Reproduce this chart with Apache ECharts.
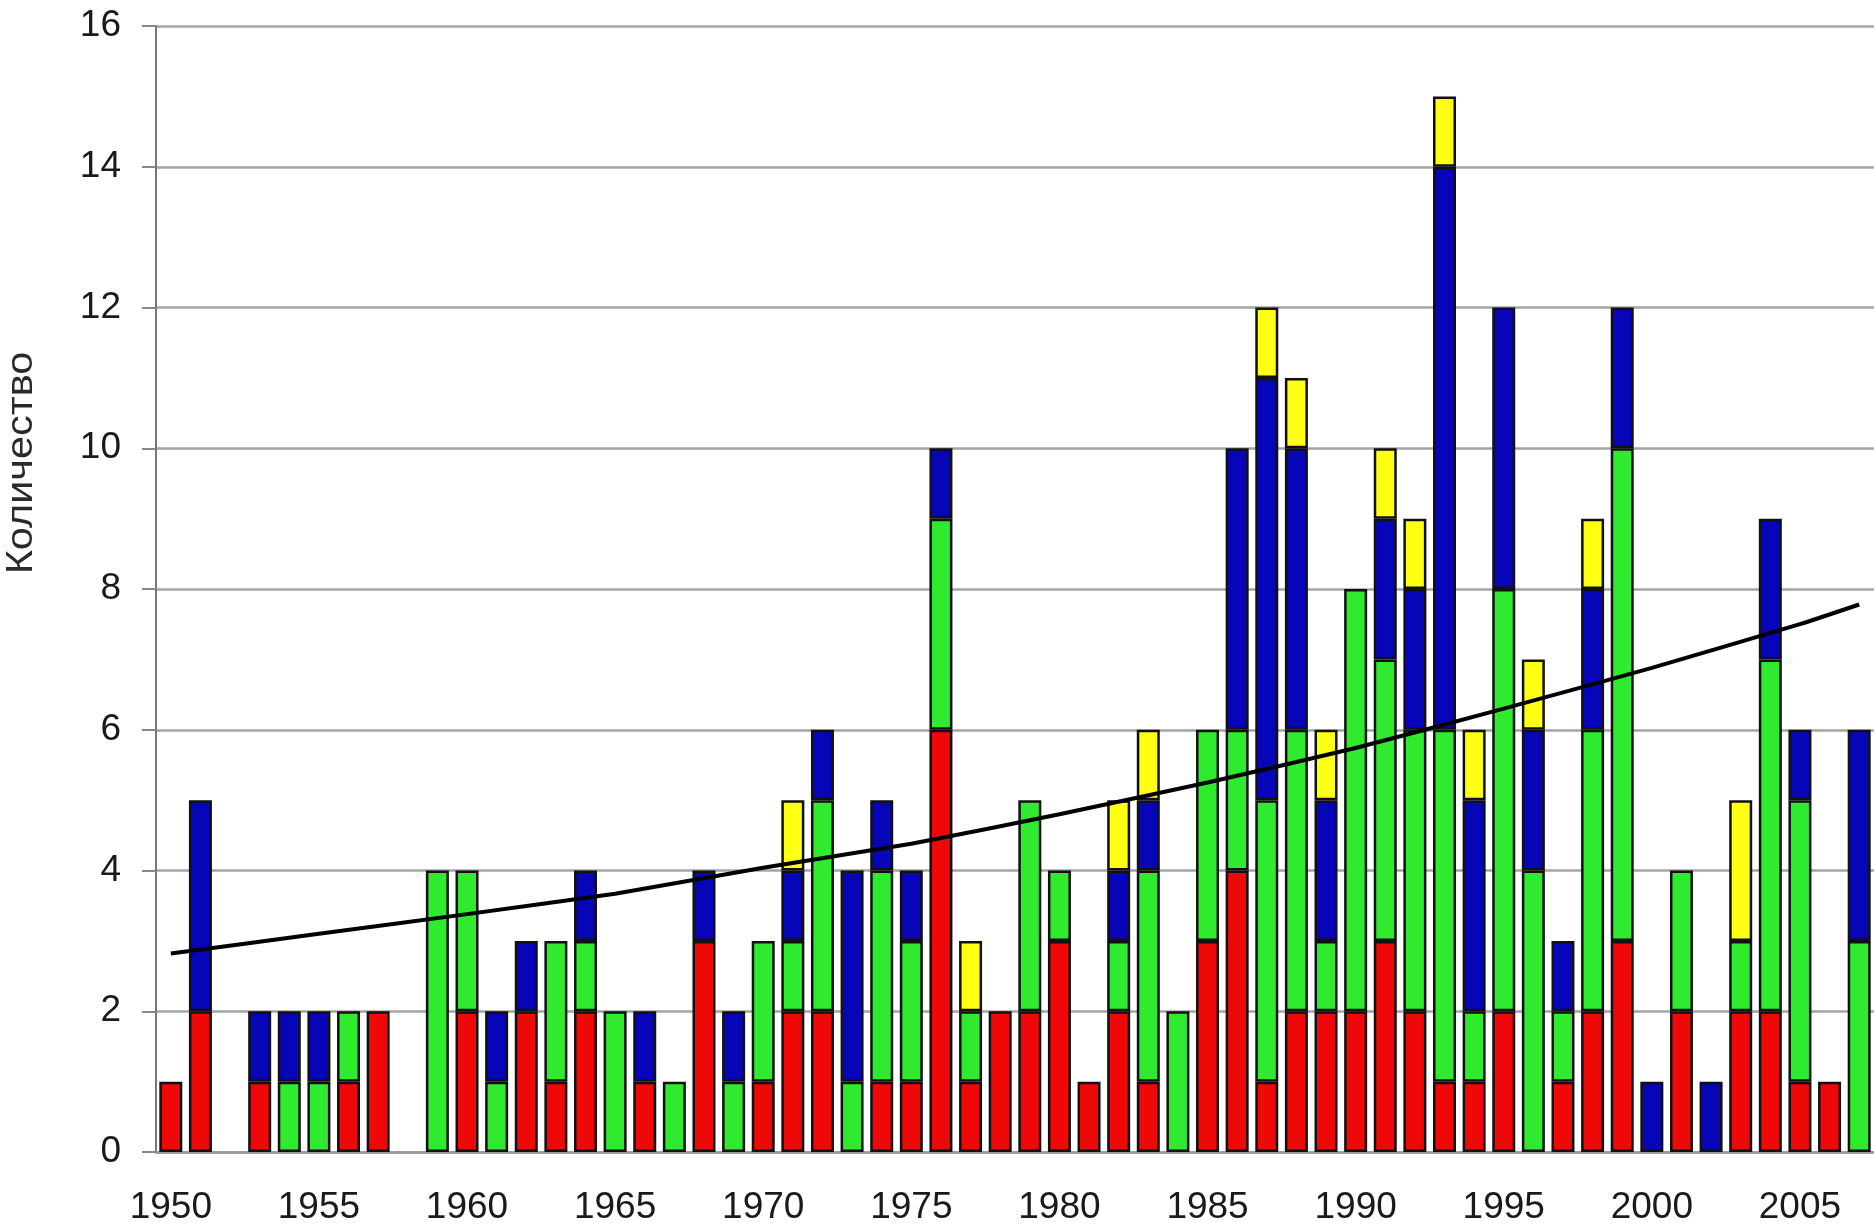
<!DOCTYPE html>
<html>
<head>
<meta charset="utf-8">
<script src="https://cdn.jsdelivr.net/npm/echarts@6/dist/echarts.min.js"></script>
<style>
html,body{margin:0;padding:0;background:#fff;}
#chart{width:1874px;height:1232px;}
</style>
</head>
<body>
<div id="chart"></div>
<script>
var years = [];
for (var yr = 1950; yr <= 2007; yr++) years.push(String(yr));

var redValues = [
  1,2,0,1,0,0,1,2,0,0,
  2,0,2,1,2,0,1,0,3,0,
  1,2,2,0,1,1,6,1,2,2,
  3,1,2,1,0,3,4,1,2,2,
  2,3,2,1,1,2,0,1,2,3,
  0,2,0,2,2,1,1,0
];
var greenValues = [
  0,0,0,0,1,1,1,0,0,4,
  2,1,0,2,1,2,0,1,0,1,
  2,1,3,1,3,2,3,1,0,3,
  1,0,1,3,2,3,2,4,4,1,
  6,4,4,5,1,6,4,1,4,7,
  0,2,0,1,5,4,0,3
];
var blueValues = [
  0,3,0,1,1,1,0,0,0,0,
  0,1,1,0,1,0,1,0,1,1,
  0,1,1,3,1,1,1,0,0,0,
  0,0,1,1,0,0,4,6,4,2,
  0,2,2,8,3,4,2,1,2,2,
  1,0,1,0,2,1,0,3
];
var yellowValues = [
  0,0,0,0,0,0,0,0,0,0,
  0,0,0,0,0,0,0,0,0,0,
  0,1,0,0,0,0,0,1,0,0,
  0,0,1,1,0,0,0,1,1,1,
  0,1,1,1,1,0,1,0,1,0,
  0,0,0,2,0,0,0,0
];
// trend line
var trendYears  = ['1950','1955','1960','1965','1970','1975','1980','1985','1990','1995','2000','2005','2007'];
var trendValues = [2.82, 3.1, 3.38, 3.67, 4.04, 4.38, 4.8, 5.25, 5.74, 6.3, 6.88, 7.5, 7.78];
var yTicks = [0,2,4,6,8,10,12,14,16];

var FONT = "'Liberation Sans', Arial, sans-serif";
function nz(arr){ return arr.map(function(v){ return v === 0 ? '-' : v; }); }
function barSeries(name, values, color){
  return {
    name: name, type: 'bar', stack: 'total', data: nz(values),
    barWidth: 23,
    itemStyle: { color: color, borderColor: '#111', borderWidth: 2.5 },
    emphasis: { disabled: true }
  };
}

var chart = echarts.init(document.getElementById('chart'), null, {renderer:'canvas'});
chart.setOption({
  backgroundColor: '#ffffff',
  animation: false,
  grid: { left: 156, right: 0, top: 26, bottom: 80, containLabel: false },
  xAxis: {
    type: 'category', data: years, boundaryGap: true,
    axisLine: { show: true, lineStyle: { color: '#999', width: 2.5 } },
    axisTick: { show: false },
    axisLabel: { interval: 4, fontSize: 37, color: '#1a1a1a', fontFamily: FONT, margin: 37 },
    splitLine: { show: false }
  },
  yAxis: {
    type: 'value', min: yTicks[0], max: yTicks[yTicks.length-1], interval: 2,
    axisLine: { show: true, lineStyle: { color: '#777', width: 2 } },
    axisTick: { show: true, length: 14, lineStyle: { color: '#888', width: 2 } },
    axisLabel: { fontSize: 37, color: '#1a1a1a', fontFamily: FONT, margin: 35 },
    splitLine: { show: true, lineStyle: { color: '#a4a4a4', width: 2.5 } }
  },
  graphic: [{
    type: 'text', x: 22, y: 463, rotation: Math.PI/2, scaleX: 1.12,
    style: { text: 'Количество', fontSize: 37, fontFamily: FONT, fill: '#2a2a2a',
             align: 'center', verticalAlign: 'middle' }
  }],
  series: [
    barSeries('red', redValues, '#ee0808'),
    barSeries('green', greenValues, '#30ea30'),
    barSeries('blue', blueValues, '#0606b8'),
    barSeries('yellow', yellowValues, '#ffff14'),
    {
      name: 'trend', type: 'line', z: 10,
      data: trendYears.map(function(y,i){ return [y, trendValues[i]]; }),
      symbol: 'none', smooth: 0.15,
      lineStyle: { color: '#000', width: 4 }
    }
  ]
});
</script>
</body>
</html>
